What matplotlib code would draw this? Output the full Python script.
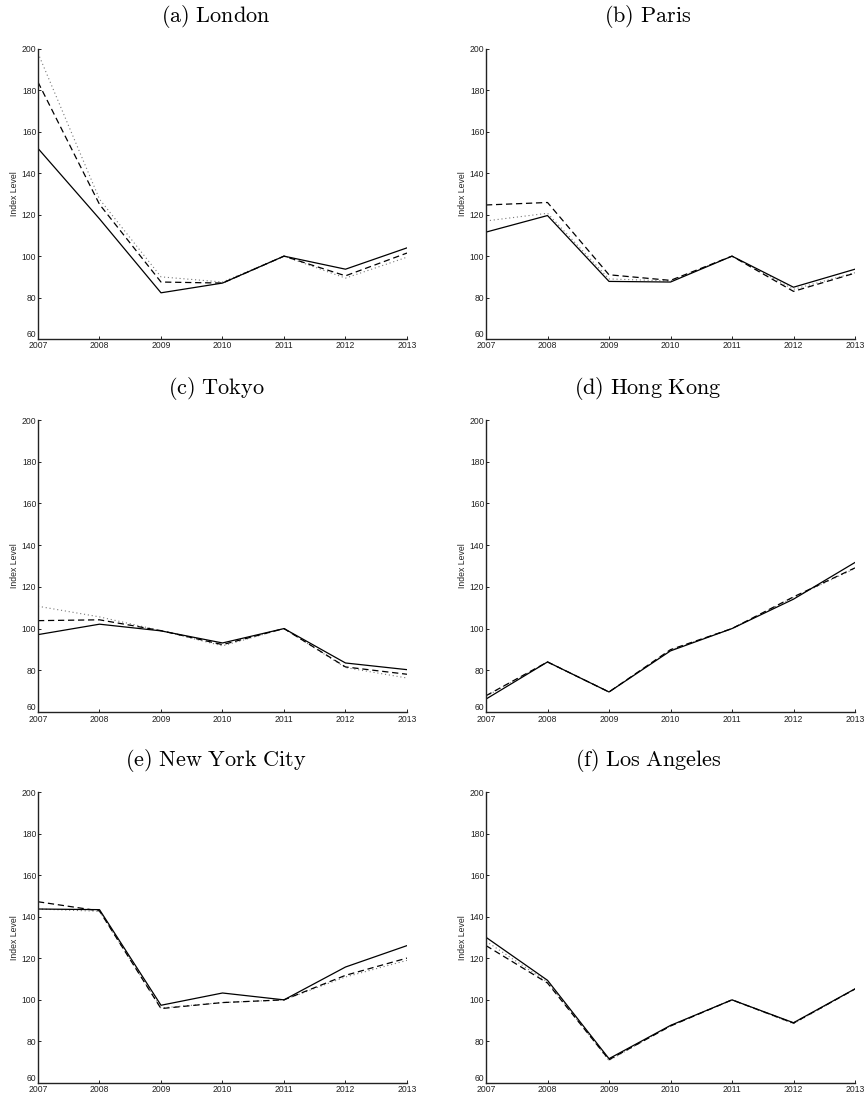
import matplotlib
matplotlib.use("Agg")
import matplotlib.pyplot as plt

years = [2007, 2008, 2009, 2010, 2011, 2012, 2013]

titles = ["(a) London", "(b) Paris", "(c) Tokyo", "(d) Hong Kong",
          "(e) New York City", "(f) Los Angeles"]

london_solid = [152, 118, 82.3, 87, 100, 93.7, 104]
london_dashed = [184, 125, 87.5, 87, 100, 90.5, 101.5]
london_dotted = [198, 127.5, 90, 87.5, 100, 89.4, 99.5]

paris_solid = [111.6, 119.6, 87.8, 87.5, 100, 85, 93.7]
paris_dashed = [124.7, 125.9, 91, 88.3, 100, 83, 91.8]
paris_dotted = [117, 120.7, 89, 88, 100, 84, 92]

tokyo_solid = [97.1, 102.1, 98.9, 93.1, 100, 83.5, 80.3]
tokyo_dashed = [103.8, 104.2, 99, 92.3, 100, 81.6, 78.1]
tokyo_dotted = [110.7, 105.6, 99, 91.7, 100, 81.3, 76.3]

hk_solid = [66.2, 84, 69.6, 89.3, 100, 114.1, 131.7]
hk_dashed = [67.8, 84, 69.6, 89.9, 100, 115.2, 129.1]
hk_dotted = [67.5, 84, 69.6, 89.7, 100, 114.9, 128.8]

nyc_solid = [143.7, 143.4, 97.4, 103.3, 100, 115.8, 126.1]
nyc_dashed = [147.2, 142.8, 95.8, 98.7, 100, 111.8, 120.1]
nyc_dotted = [143.7, 142.6, 96.1, 98.7, 100, 111, 119]

la_solid = [130.1, 109.4, 71.7, 87.7, 100, 89, 105.3]
la_dashed = [126.1, 108.1, 71.2, 87.4, 100, 88.8, 105.2]
la_dotted = [128.2, 108.6, 70.8, 87.6, 100, 88.5, 105.2]

solid_series = [london_solid, paris_solid, tokyo_solid, hk_solid, nyc_solid, la_solid]
dashed_series = [london_dashed, paris_dashed, tokyo_dashed, hk_dashed, nyc_dashed, la_dashed]
dotted_series = [london_dotted, paris_dotted, tokyo_dotted, hk_dotted, nyc_dotted, la_dotted]

yticks = [60, 80, 100, 120, 140, 160, 180, 200]

plt.rcParams['font.family'] = ['Liberation Sans', 'DejaVu Sans']
plt.rcParams['mathtext.fontset'] = 'cm'

W, H = 864, 1097
fig = plt.figure(figsize=(W / 100, H / 100), dpi=100)

lefts = [38, 486]
tops = [49, 420, 792]
bottoms = [339, 712, 1083]
axw = 369

for i in range(6):
    r, c = divmod(i, 2)
    l = lefts[c]
    t = tops[r]
    b = bottoms[r]
    ax = fig.add_axes([l / W, 1 - b / H, axw / W, (b - t) / H])
    ax.plot(years, dotted_series[i], color='#777777', lw=0.8, linestyle=(0, (1, 2.5)))
    ax.plot(years, dashed_series[i], color='black', lw=0.9, linestyle=(0, (5, 3)))
    ax.plot(years, solid_series[i], color='black', lw=0.9)
    ax.set_xlim(2007, 2013)
    ax.set_ylim(60, 200)
    ax.set_xticks(years)
    ax.set_xticklabels([str(y) for y in years])
    ax.set_yticks(yticks)
    ax.spines['top'].set_visible(False)
    ax.spines['right'].set_visible(False)
    for s in ['left', 'bottom']:
        ax.spines[s].set_linewidth(1.0)
        ax.spines[s].set_color('#222222')
    ax.tick_params(direction='in', length=2.5, width=0.7, labelsize=6.2,
                   pad=1.2, colors='#222222')
    ax.tick_params(axis='x', pad=1.8)
    ax.get_yticklabels()[0].set_va('bottom')
    ax.set_ylabel('Index Level', fontsize=6.2, labelpad=2, color='#222222')
    fig.text((216 + 432 * c) / W, 1 - (t - 32) / H, r'$\mathrm{' + titles[i].replace(' ', r'\ ') + '}$',
             ha='center', va='center', fontsize=16)

fig.savefig('out.png', dpi=100)
